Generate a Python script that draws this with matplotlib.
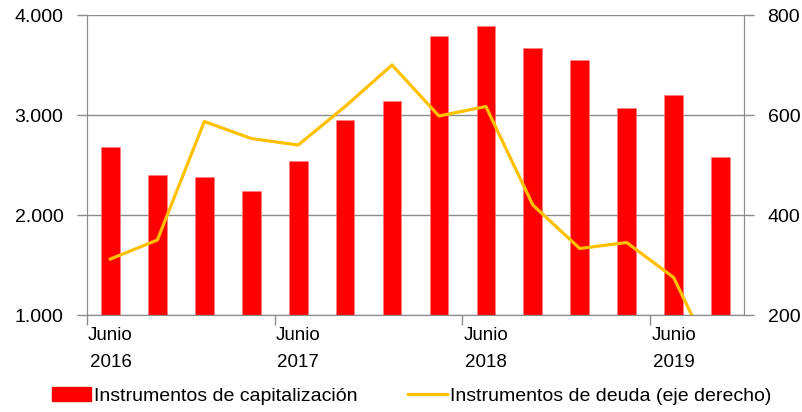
import matplotlib
matplotlib.use("Agg")
import matplotlib.pyplot as plt
from matplotlib.patches import Patch
from matplotlib.lines import Line2D
from matplotlib.transforms import ScaledTranslation

plt.rcParams['font.family'] = ['Liberation Sans', 'DejaVu Sans']

categories = list(range(14))
capitalizacion = [2680, 2403, 2377, 2240, 2540, 2953, 3140, 3790, 3890, 3667, 3553, 3067, 3203, 2580]
deuda = [312, 350, 587, 553, 540, 617, 700, 598, 617, 420, 333, 345, 275, 80]
tick_labels = ["Junio\n2016", "Junio\n2017", "Junio\n2018", "Junio\n2019"]
label_pos = [0, 4, 8, 12]

red = "#FF0000"
gold = "#FFC000"
grey = "#8C8C8C"

fig = plt.figure(figsize=(8.03, 4.12), dpi=100)
ax = fig.add_axes([87/803, 1-315/412, (744-87)/803, 300/412])
ax.bar(categories, capitalizacion, width=0.4, color=red, zorder=2, edgecolor="#FF8080", linewidth=0.4)
ax.set_ylim(1000, 4000)
ax.set_xlim(-0.5, 13.5)
ax.set_yticks([1000, 2000, 3000, 4000])
ax.set_yticklabels(["1.000", "2.000", "3.000", "4.000"])
ax.grid(axis='y', color=grey, linewidth=1.0, zorder=0)
ax.set_axisbelow(True)

ax2 = ax.twinx()
ax2.plot(categories, deuda, color=gold, linewidth=2.3, zorder=3, clip_on=True)
ax2.set_ylim(200, 800)
ax2.set_yticks([200, 400, 600, 800])
ax2.set_yticklabels(["200", "400", "600", "800"])

ax.set_xticks([-0.5, 3.5, 7.5, 11.5])
ax.set_xticklabels([])
ax.set_xticks(label_pos, minor=True)
ax.set_xticklabels(tick_labels, minor=True, fontsize=13.5, linespacing=1.75)
shift = ScaledTranslation(-5/100, 0, fig.dpi_scale_trans)
for lbl in ax.get_xticklabels(minor=True):
    lbl.set_transform(lbl.get_transform() + shift)
ax.tick_params(axis='x', which='major', length=7, color=grey, width=1)
ax.tick_params(axis='x', which='minor', length=0, pad=9)
ax.tick_params(axis='y', length=7, color=grey, width=1, labelsize=14, pad=10)
ax2.tick_params(axis='y', length=7, color=grey, width=1, labelsize=14, pad=10)

for a in (ax, ax2):
    a.spines['top'].set_visible(False)
    a.spines['left'].set_color(grey)
    a.spines['right'].set_color(grey)
    a.spines['bottom'].set_color(grey)

handles = [Patch(facecolor=red, edgecolor=red),
           Line2D([0], [0], color=gold, linewidth=2.3)]
fig.legend(handles, ["Instrumentos de capitalización", "Instrumentos de deuda (eje derecho)"],
           loc='center', bbox_to_anchor=(412/803, 1-396/412), ncol=2, frameon=False,
           fontsize=14, handlelength=2.0, handletextpad=0.15, columnspacing=2.6)

fig.savefig("out.png", dpi=100)
